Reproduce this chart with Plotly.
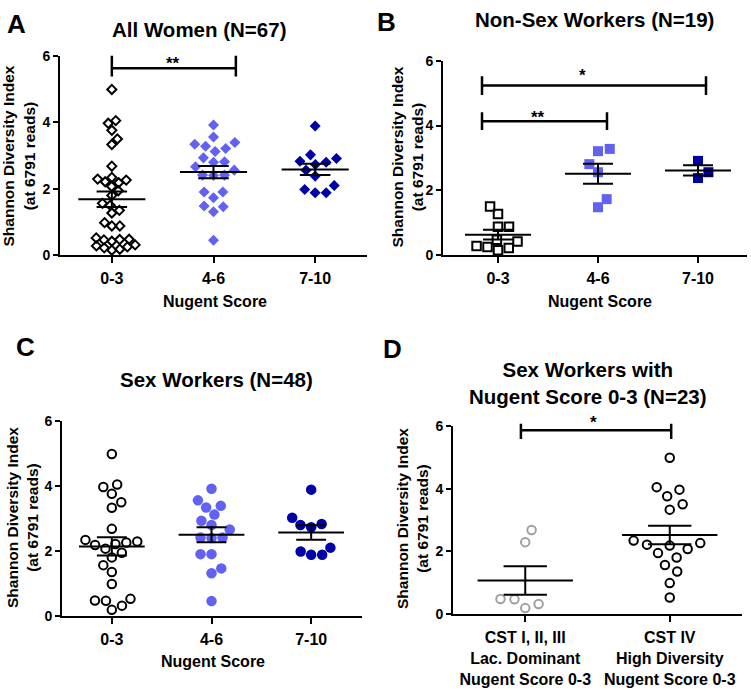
import numpy as np
import plotly.graph_objects as go

# ---------------- data (Shannon diversity index at 6791 reads) ----------------
CATS_NUGENT = ["0-3", "4-6", "7-10"]
CATS_CST = ["CST I, II, III<br>Lac. Dominant<br>Nugent Score 0-3",
            "CST IV<br>High Diversity<br>Nugent Score 0-3"]

# Non-sex workers by Nugent score
NSW_03 = [1.50, 1.27, 0.88, 0.88, 0.42, 0.48, 0.28, 0.25, 0.22, 0.15]
NSW_46 = [3.21, 3.28, 2.81, 2.56, 1.73, 1.48]
NSW_710 = [2.91, 2.38, 2.56]

# Sex workers, Nugent 0-3, split by community state type
SW_03_LAC = [2.68, 2.29, 0.46, 0.31, 0.47, 0.18]
SW_03_CST4 = [4.99, 4.05, 3.97, 3.76, 3.50, 3.33, 2.26, 2.18, 2.21, 2.34,
              2.07, 1.94, 1.80, 1.56, 1.35, 0.98, 0.52]
SW_46 = [3.92, 3.34, 3.56, 3.39, 3.12, 2.93, 2.66, 2.80, 2.41, 2.40, 2.41,
         1.90, 1.90, 1.46, 1.31, 0.45]
SW_710 = [3.89, 3.02, 2.80, 2.73, 2.83, 1.98, 1.88, 1.88, 2.10]

SW_03 = SW_03_LAC + SW_03_CST4
ALL_03 = NSW_03 + SW_03
ALL_46 = NSW_46 + SW_46
ALL_710 = NSW_710 + SW_710

# ---------------- layout helpers ----------------
W, H = 751, 696
FONT = "Liberation Sans, Arial, sans-serif"
BLACK = "#000000"
C46 = "#6262F2"
C710 = "#0000A8"
GREY = "#A0A0A0"


def fx(px):
    return px / W


def fy(py):
    return 1 - py / H


# panel geometry: (x-left px, x-right px, y-top px, y-bottom px, x-range)
PANELS = {
    "A": dict(ax="", box=(60, 367, 49, 253), xr=[-0.51, 2.51]),
    "B": dict(ax="2", box=(443, 747, 54, 253), xr=[-0.55, 2.49]),
    "C": dict(ax="3", box=(62, 362, 423, 622), xr=[-0.50, 2.51]),
    "D": dict(ax="4", box=(453, 742, 428, 620), xr=[-0.50, 1.50]),
}


def scales(p):
    x0, x1, y0, y1 = p["box"]
    pxx = (x1 - x0) / (p["xr"][1] - p["xr"][0])
    pxy = (y1 - y0) / 6.0
    return pxx, pxy


def swarm(vals, pxx, pxy, dmin):
    """Simple beeswarm: place points (ascending) as close to centre as possible."""
    vals = np.asarray(vals, float)
    ys = vals * pxy
    order = np.argsort(vals, kind="stable")
    placed = []
    out = np.zeros(len(vals))
    side = 1
    for i in order:
        y = ys[i]
        cands = [0.0]
        for (xj, yj) in placed:
            dy = y - yj
            if abs(dy) < dmin:
                dx = np.sqrt(dmin ** 2 - dy ** 2)
                cands += [xj - dx, xj + dx]
        valid = [c for c in cands
                 if all((c - xj) ** 2 + (y - yj) ** 2 >= dmin ** 2 - 1e-6 for (xj, yj) in placed)]
        best = min(abs(c) for c in valid)
        opts = [c for c in valid if abs(abs(c) - best) < 1e-6]
        if len(opts) > 1 and best > 1e-6:
            c = side * best
            side = -side
        else:
            c = opts[0]
            if c != 0:
                side = -np.sign(c)
        placed.append((c, y))
        out[i] = c
    return out / pxx


fig = go.Figure()


def add_group(panel, idx, vals, symbol, color, size, open_marker, dmin):
    p = PANELS[panel]
    pxx, pxy = scales(p)
    offs = swarm(vals, pxx, pxy, dmin)
    xs = idx + offs
    if open_marker:
        marker = dict(symbol=symbol + "-open", size=size, color=color,
                      line=dict(color=color, width=2))
    else:
        marker = dict(symbol=symbol, size=size, color=color, line=dict(width=0))
    fig.add_trace(go.Scatter(x=xs, y=vals, mode="markers", marker=marker,
                             cliponaxis=False, showlegend=False, hoverinfo="y",
                             xaxis="x" + p["ax"], yaxis="y" + p["ax"]))


def add_mean_sem(panel, idx, vals, half=0.33, cap=0.15):
    p = PANELS[panel]
    pxx, _ = scales(p)
    v = np.asarray(vals, float)
    m = v.mean()
    sem = v.std(ddof=1) / np.sqrt(len(v))
    fig.add_trace(go.Scatter(x=[idx - half, idx + half], y=[m, m], mode="lines",
                             line=dict(color=BLACK, width=2), showlegend=False,
                             hoverinfo="skip", xaxis="x" + p["ax"], yaxis="y" + p["ax"]))
    fig.add_trace(go.Scatter(x=[idx], y=[m], mode="markers",
                             marker=dict(size=1, opacity=0),
                             error_y=dict(type="data", array=[sem], visible=True,
                                          color=BLACK, thickness=2, width=cap * pxx),
                             showlegend=False, hoverinfo="skip",
                             xaxis="x" + p["ax"], yaxis="y" + p["ax"]))


# Panel A: all women (diamonds)
add_group("A", 0, ALL_03, "diamond", BLACK, 7, True, 8)
add_group("A", 1, ALL_46, "diamond", C46, 8.5, False, 11)
add_group("A", 2, ALL_710, "diamond", C710, 8.5, False, 11)
# Panel B: non-sex workers (squares)
add_group("B", 0, NSW_03, "square", BLACK, 8.5, True, 11)
add_group("B", 1, NSW_46, "square", C46, 10, False, 12)
add_group("B", 2, NSW_710, "square", C710, 10, False, 12)
# Panel C: sex workers (circles)
add_group("C", 0, SW_03, "circle", BLACK, 8.5, True, 11)
add_group("C", 1, SW_46, "circle", C46, 10.5, False, 11)
add_group("C", 2, SW_710, "circle", C710, 10.5, False, 11)
# Panel D: sex workers with Nugent 0-3 by CST
add_group("D", 0, SW_03_LAC, "circle", GREY, 8.5, True, 14)
add_group("D", 1, SW_03_CST4, "circle", BLACK, 8.5, True, 14)

for panel, groups in [("A", [ALL_03, ALL_46, ALL_710]),
                      ("B", [NSW_03, NSW_46, NSW_710]),
                      ("C", [SW_03, SW_46, SW_710]),
                      ("D", [SW_03_LAC, SW_03_CST4])]:
    for i, g in enumerate(groups):
        add_mean_sem(panel, i, g)

# ---------------- axes ----------------
layout_axes = {}
for name, p in PANELS.items():
    x0, x1, y0, y1 = p["box"]
    ax = p["ax"]
    cats = CATS_CST if name == "D" else CATS_NUGENT
    layout_axes["xaxis" + ax] = dict(
        domain=[fx(x0), fx(x1)], range=p["xr"], anchor="y" + ax,
        tickvals=list(range(len(cats))), ticktext=cats,
        showline=True, linecolor=BLACK, linewidth=2, ticks="outside",
        ticklen=6, tickwidth=2, tickcolor=BLACK, showgrid=False, zeroline=False,
        ticklabelstandoff=2,
        tickfont=dict(family=FONT, size=16, color=BLACK, weight="bold"),
        fixedrange=True)
    layout_axes["yaxis" + ax] = dict(
        domain=[fy(y1), fy(y0)], range=[0, 6], anchor="x" + ax,
        tickvals=[0, 2, 4, 6], showline=True, linecolor=BLACK, linewidth=2,
        ticks="outside", ticklen=5, tickwidth=2, tickcolor=BLACK,
        showgrid=False, zeroline=False,
        tickfont=dict(family=FONT, size=14, color=BLACK, weight="bold"),
        fixedrange=True)

# ---------------- text ----------------
ann = []


def text(px, py, s, size, angle=0):
    ann.append(dict(x=fx(px), y=fy(py), xref="paper", yref="paper", text=s,
                    showarrow=False, textangle=angle, xanchor="center", yanchor="middle",
                    font=dict(family=FONT, size=size, color=BLACK, weight="bold")))


for letter, (lx, ly) in {"A": (16, 16), "B": (387, 14), "C": (25, 347), "D": (393, 349)}.items():
    text(lx, ly, letter, 26)

text(199, 22, "All Women (N=67)", 20.5)
text(594, 12, "Non-Sex Workers (N=19)", 20.5)
text(217, 380, "Sex Workers (N=48)", 20.5)
text(588, 384, "Sex Workers with<br>Nugent Score 0-3 (N=23)", 20.5)

YT = "Shannon Diversity Index<br>(at 6791 reads)"
text(19, 152, YT, 15.5, -90)
text(407, 153, YT, 15.5, -90)
text(22, 522, YT, 15.5, -90)
text(413, 523, YT, 15.5, -90)

text(215, 300, "Nugent Score", 16)
text(600, 300, "Nugent Score", 16)
text(213, 669, "Nugent Score", 16)

# ---------------- significance brackets ----------------
shapes = []


def bracket(panel, xa, xb, ybar, ytop, ybot, stars, sx, sy):
    ax = PANELS[panel]["ax"]
    path = (f"M {xa},{ybot / 6} L {xa},{ytop / 6} M {xa},{ybar / 6} L {xb},{ybar / 6} "
            f"M {xb},{ybot / 6} L {xb},{ytop / 6}")
    shapes.append(dict(type="path", path=path, xref="x" + ax, yref="y" + ax + " domain",
                       line=dict(color=BLACK, width=2.5)))
    ann.append(dict(x=sx, y=sy / 6, xref="x" + ax, yref="y" + ax + " domain", text=stars,
                    showarrow=False, xanchor="center", yanchor="middle",
                    font=dict(family=FONT, size=17, color=BLACK, weight="bold")))


bracket("A", 0.0, 1.22, 5.63, 6.0, 5.38, "**", 0.6, 5.76)
bracket("B", -0.16, 2.08, 5.24, 5.52, 4.94, "*", 0.84, 5.55)
bracket("B", -0.16, 1.09, 4.13, 4.41, 3.86, "**", 0.40, 4.25)
bracket("D", -0.03, 1.01, 5.87, 6.08, 5.59, "*", 0.47, 6.125)

fig.update_layout(
    width=W, height=H, margin=dict(l=0, r=0, t=0, b=0),
    paper_bgcolor="white", plot_bgcolor="white", showlegend=False,
    font=dict(family=FONT, color=BLACK),
    annotations=ann, shapes=shapes, **layout_axes)

fig.write_html("out.html", config={"displayModeBar": False},
               post_script="document.body.style.margin='0';")
